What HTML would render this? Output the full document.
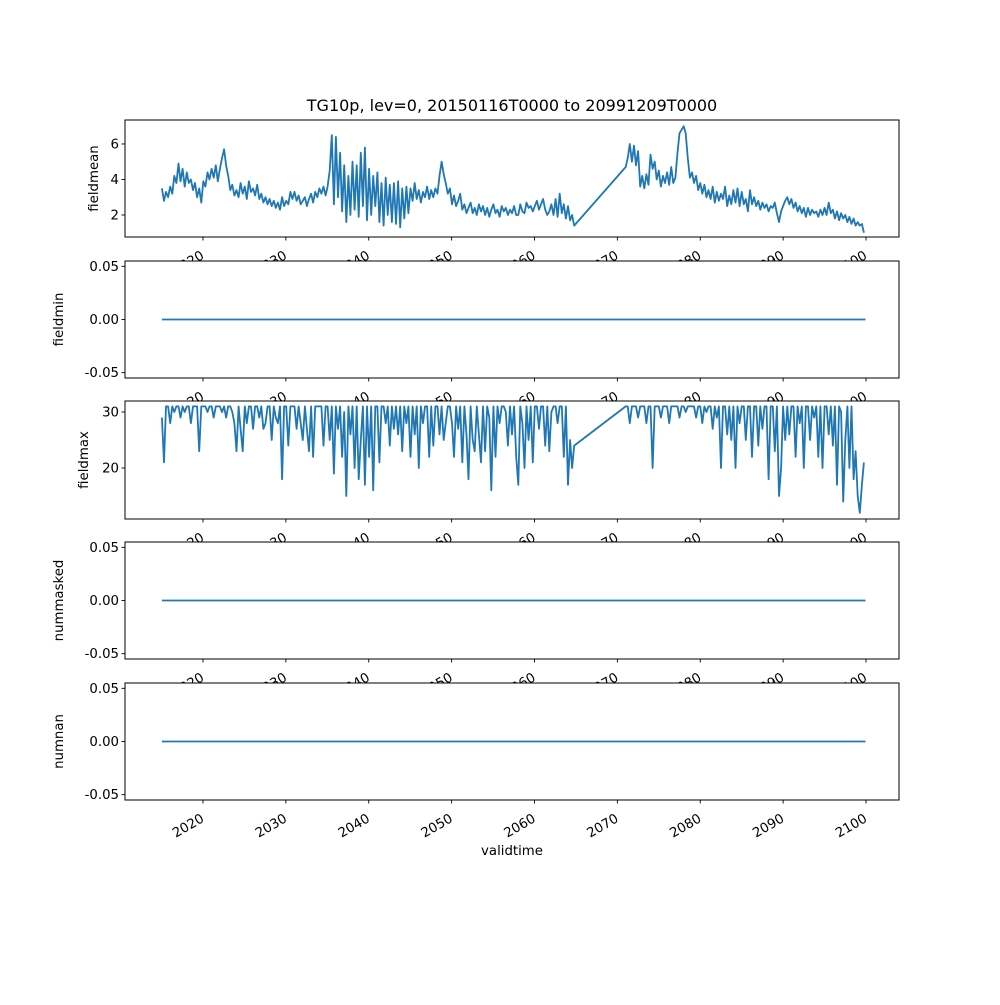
<!DOCTYPE html>
<html><head><meta charset="utf-8"><style>
body{margin:0;background:#fff}
svg text{font-family:"DejaVu Sans","Liberation Sans",sans-serif;font-size:13.3px;fill:#000}
</style></head><body>
<svg id="fig" width="1000" height="1000" viewBox="0 0 1000 1000" xmlns="http://www.w3.org/2000/svg">
<rect width="1000" height="1000" fill="#fff"/>
<text x="512" y="111" text-anchor="middle" style="font-size:16px">TG10p, lev=0, 20150116T0000 to 20991209T0000</text>
</svg>
<script>
const segAStart = 2015.04, segBStart = 2071.0, stepYears = 0.25;
const meanA = [3.5,2.8,3.3,3.0, 3.6,3.2,4.2,3.8, 4.9,3.9,4.6,3.6, 4.4,3.8,4.0,3.4, 3.8,3.0,3.5,2.7, 3.9,3.6,4.4,4.0, 4.6,4.1,4.8,3.9, 4.6,5.2,5.7,4.8, 4.2,3.4,3.7,3.1, 3.4,3.0,3.8,3.2, 3.6,2.9,3.9,3.3, 3.5,3.1,3.7,2.9, 3.2,2.7,3.0,2.6, 2.9,2.5,2.8,2.4, 2.7,2.3,3.0,2.5, 2.8,2.6,3.3,2.9, 3.3,2.8,3.1,2.6, 2.8,3.0,2.5,2.9, 3.2,2.7,3.3,3.0, 3.5,3.2,3.6,3.1, 3.6,4.5,6.5,2.6, 6.4,3.0,5.5,2.2, 4.8,1.6,4.2,2.0, 5.0,2.3,4.8,1.9, 5.5,2.5,5.8,1.7, 4.6,2.0,4.2,2.5, 4.4,1.6,3.8,1.4, 4.1,2.0,3.7,1.6, 3.8,1.5,3.9,1.3, 3.5,1.8,3.6,2.1, 3.5,2.8,3.8,2.9, 3.4,2.7,3.3,3.0, 3.6,2.9,3.4,3.0, 3.5,3.2,4.2,5.0, 4.3,3.8,3.2,3.5, 2.6,3.1,2.5,2.8, 3.2,2.3,2.6,2.1, 2.4,2.7,2.1,2.4, 2.0,2.6,2.2,2.5, 2.0,2.4,1.9,2.3, 2.6,2.1,2.3,1.9, 2.5,2.2,2.4,2.0, 2.3,2.1,2.5,2.0, 2.0,2.6,2.2,2.1, 2.7,2.4,2.5,2.2, 2.5,2.8,2.3,2.6, 2.9,2.3,2.0,2.2, 2.6,2.0,2.9,1.9, 3.2,2.1,2.6,1.8, 2.5,1.7,2.0,1.4];
const meanB = [4.7,5.2,6.0,5.0, 5.9,4.8,5.6,3.6, 4.2,3.5,4.3,3.7, 5.4,4.6,5.0,4.0, 4.5,3.6,4.2,3.8, 4.4,3.7,4.7,3.8, 4.1,5.5,6.6,6.8, 7.0,6.6,5.2,4.1, 4.4,3.8,4.2,3.4, 3.8,3.2,3.7,3.0, 3.4,2.9,3.6,2.7, 3.3,2.8,3.2,2.9, 3.6,2.5,3.1,2.6, 3.4,2.7,3.5,2.5, 3.3,2.6,2.9,2.2, 3.4,2.6,3.0,2.5, 2.8,2.3,2.7,2.4, 2.6,2.2,2.5,2.4, 2.7,2.1,1.6,2.2, 2.5,2.8,3.0,2.6, 2.9,2.4,2.7,2.2, 2.5,2.1,2.4,1.9, 2.4,2.0,2.3,2.1, 2.2,1.9,2.3,2.0, 2.4,2.0,2.7,2.1, 2.3,1.8,2.2,1.7, 2.1,1.8,2.0,1.6, 1.9,1.5,1.8,1.4, 1.6,1.4,1.5,1.0];
const maxA = [29,21,31,31, 28,31,30,31, 31,29,31,30, 31,31,28,31, 31,31,23,31, 31,31,30,31, 31,29,31,31, 31,30,31,29, 31,31,30,28, 23,31,27,23, 31,28,31,31, 27,31,31,29, 31,27,28,31, 31,25,31,29, 28,31,18,31, 31,24,31,31, 31,27,31,28, 25,31,27,23, 31,22,31,31, 31,31,24,31, 31,25,31,19, 31,27,31,22, 30,15,31,26, 31,20,31,18, 25,31,17,31, 22,31,16,31, 31,21,31,31, 28,31,24,31, 27,31,26,31, 23,31,28,31, 22,31,26,31, 20,31,28,31, 31,22,31,24, 31,31,26,31, 25,28,31,31, 28,22,31,27, 31,21,31,26, 18,31,25,23, 31,26,21,31, 23,31,29,16, 31,22,31,28, 31,31,30,24, 31,26,31,22, 17,31,28,20, 31,25,31,21, 31,31,27,31, 31,24,31,23, 30,31,31,28, 31,31,22,31, 17,25,20,24];
const maxB = [31,31,28,31, 31,31,29,31, 31,31,28,31, 31,20,31,31, 31,29,31,31, 31,28,31,31, 31,31,29,31, 31,30,31,31, 31,31,29,31, 31,28,31,30, 31,31,27,31, 29,31,20,31, 31,26,31,25, 31,20,31,28, 31,31,25,31, 31,22,31,31, 24,31,27,31, 31,18,31,31, 23,31,15,20, 31,25,31,26, 31,31,22,31, 28,31,20,31, 31,25,31,29, 31,22,31,20, 31,31,26,31, 24,31,17,31, 30,14,25,31, 20,31,18,23, 15,12,17,21];
const zeroStart = [2015.04, 0], zeroEnd = [2099.94, 0];
const xTicks = [2020,2030,2040,2050,2060,2070,2080,2090,2100];
const panelNames = ["fieldmean","fieldmin","fieldmax","nummasked","numnan"];
const meanTicks = [2,4,6];
const zeroTicks = [-0.05,0.00,0.05];
const maxTicks = [20,30];

const NS = "http://www.w3.org/2000/svg";
const svg = document.getElementById('fig');
const L = 125, R = 899;
const xs = y => 203 + (y - 2020) * (866 - 203) / 80;
const panels = [
  {top:120,bot:237,ymin:0.76,ymax:7.35,ticks:meanTicks,fmt:v=>String(v)},
  {top:261,bot:378,ymin:-0.055,ymax:0.055,ticks:zeroTicks,fmt:v=>v.toFixed(2)},
  {top:401,bot:519,ymin:10.9,ymax:31.96,ticks:maxTicks,fmt:v=>String(v)},
  {top:542,bot:659,ymin:-0.055,ymax:0.055,ticks:zeroTicks,fmt:v=>v.toFixed(2)},
  {top:683,bot:800,ymin:-0.055,ymax:0.055,ticks:zeroTicks,fmt:v=>v.toFixed(2)}
];
function mk(tag, attrs, parent){const e=document.createElementNS(NS,tag);for(const k in attrs)e.setAttribute(k,attrs[k]);(parent||svg).appendChild(e);return e;}
function series(a,b,startA,startB){const pts=[];a.forEach((v,i)=>pts.push([startA+i*stepYears,v]));b.forEach((v,i)=>pts.push([startB+i*stepYears,v]));return pts;}
const data = [series(meanA,meanB,segAStart,segBStart),[zeroStart,zeroEnd],series(maxA,maxB,segAStart,segBStart),[zeroStart,zeroEnd],[zeroStart,zeroEnd]];

panels.forEach((p,pi)=>{
  const name = panelNames[pi];
  const ys = v => p.bot - (v - p.ymin) / (p.ymax - p.ymin) * (p.bot - p.top);
  const g = mk('g',{});
  
  
  const bg = mk('rect',{x:L,y:p.top,width:R-L,height:p.bot-p.top,fill:'#fff'},g);
  
  
  const d = data[pi].map((pt,i)=>(i?'L':'M')+xs(pt[0]).toFixed(1)+' '+ys(pt[1]).toFixed(1)).join(' ');
  const line = mk('path',{d:d,fill:'none',stroke:'#1f77b4','stroke-width':1.8,'stroke-linejoin':'round'},g);
  
  
  const frame = mk('rect',{x:L,y:p.top,width:R-L,height:p.bot-p.top,fill:'none',stroke:'#000','stroke-width':1},g);
  
  
  p.ticks.forEach(t=>{
    const y = ys(t);
    mk('line',{x1:L-3.5,x2:L,y1:y,y2:y,stroke:'#000','stroke-width':0.9},g);
    const tl = mk('text',{x:L-6,y:y+4.5,'text-anchor':'end'},g);
    tl.textContent = p.fmt(t);
    
    
  });
  const yl = mk('text',{x:0,y:0,'text-anchor':'middle',transform:`translate(${pi==0?98:(pi==2?88:63)},${(p.top+p.bot)/2}) rotate(-90)`},g);
  yl.textContent = name;
  
  
  xTicks.forEach(t=>{
    const x = xs(t);
    mk('line',{x1:x,x2:x,y1:p.bot,y2:p.bot+3.5,stroke:'#000','stroke-width':0.9},g);
    const xl = mk('text',{x:0,y:0,'text-anchor':'end',transform:`translate(${x+2},${p.bot+21}) rotate(-30)`},g);
    xl.textContent = String(t);
    
    
  });
});
const xt = mk('text',{x:512,y:855,'text-anchor':'middle'});
xt.textContent = 'validtime';


</script>
</body></html>
